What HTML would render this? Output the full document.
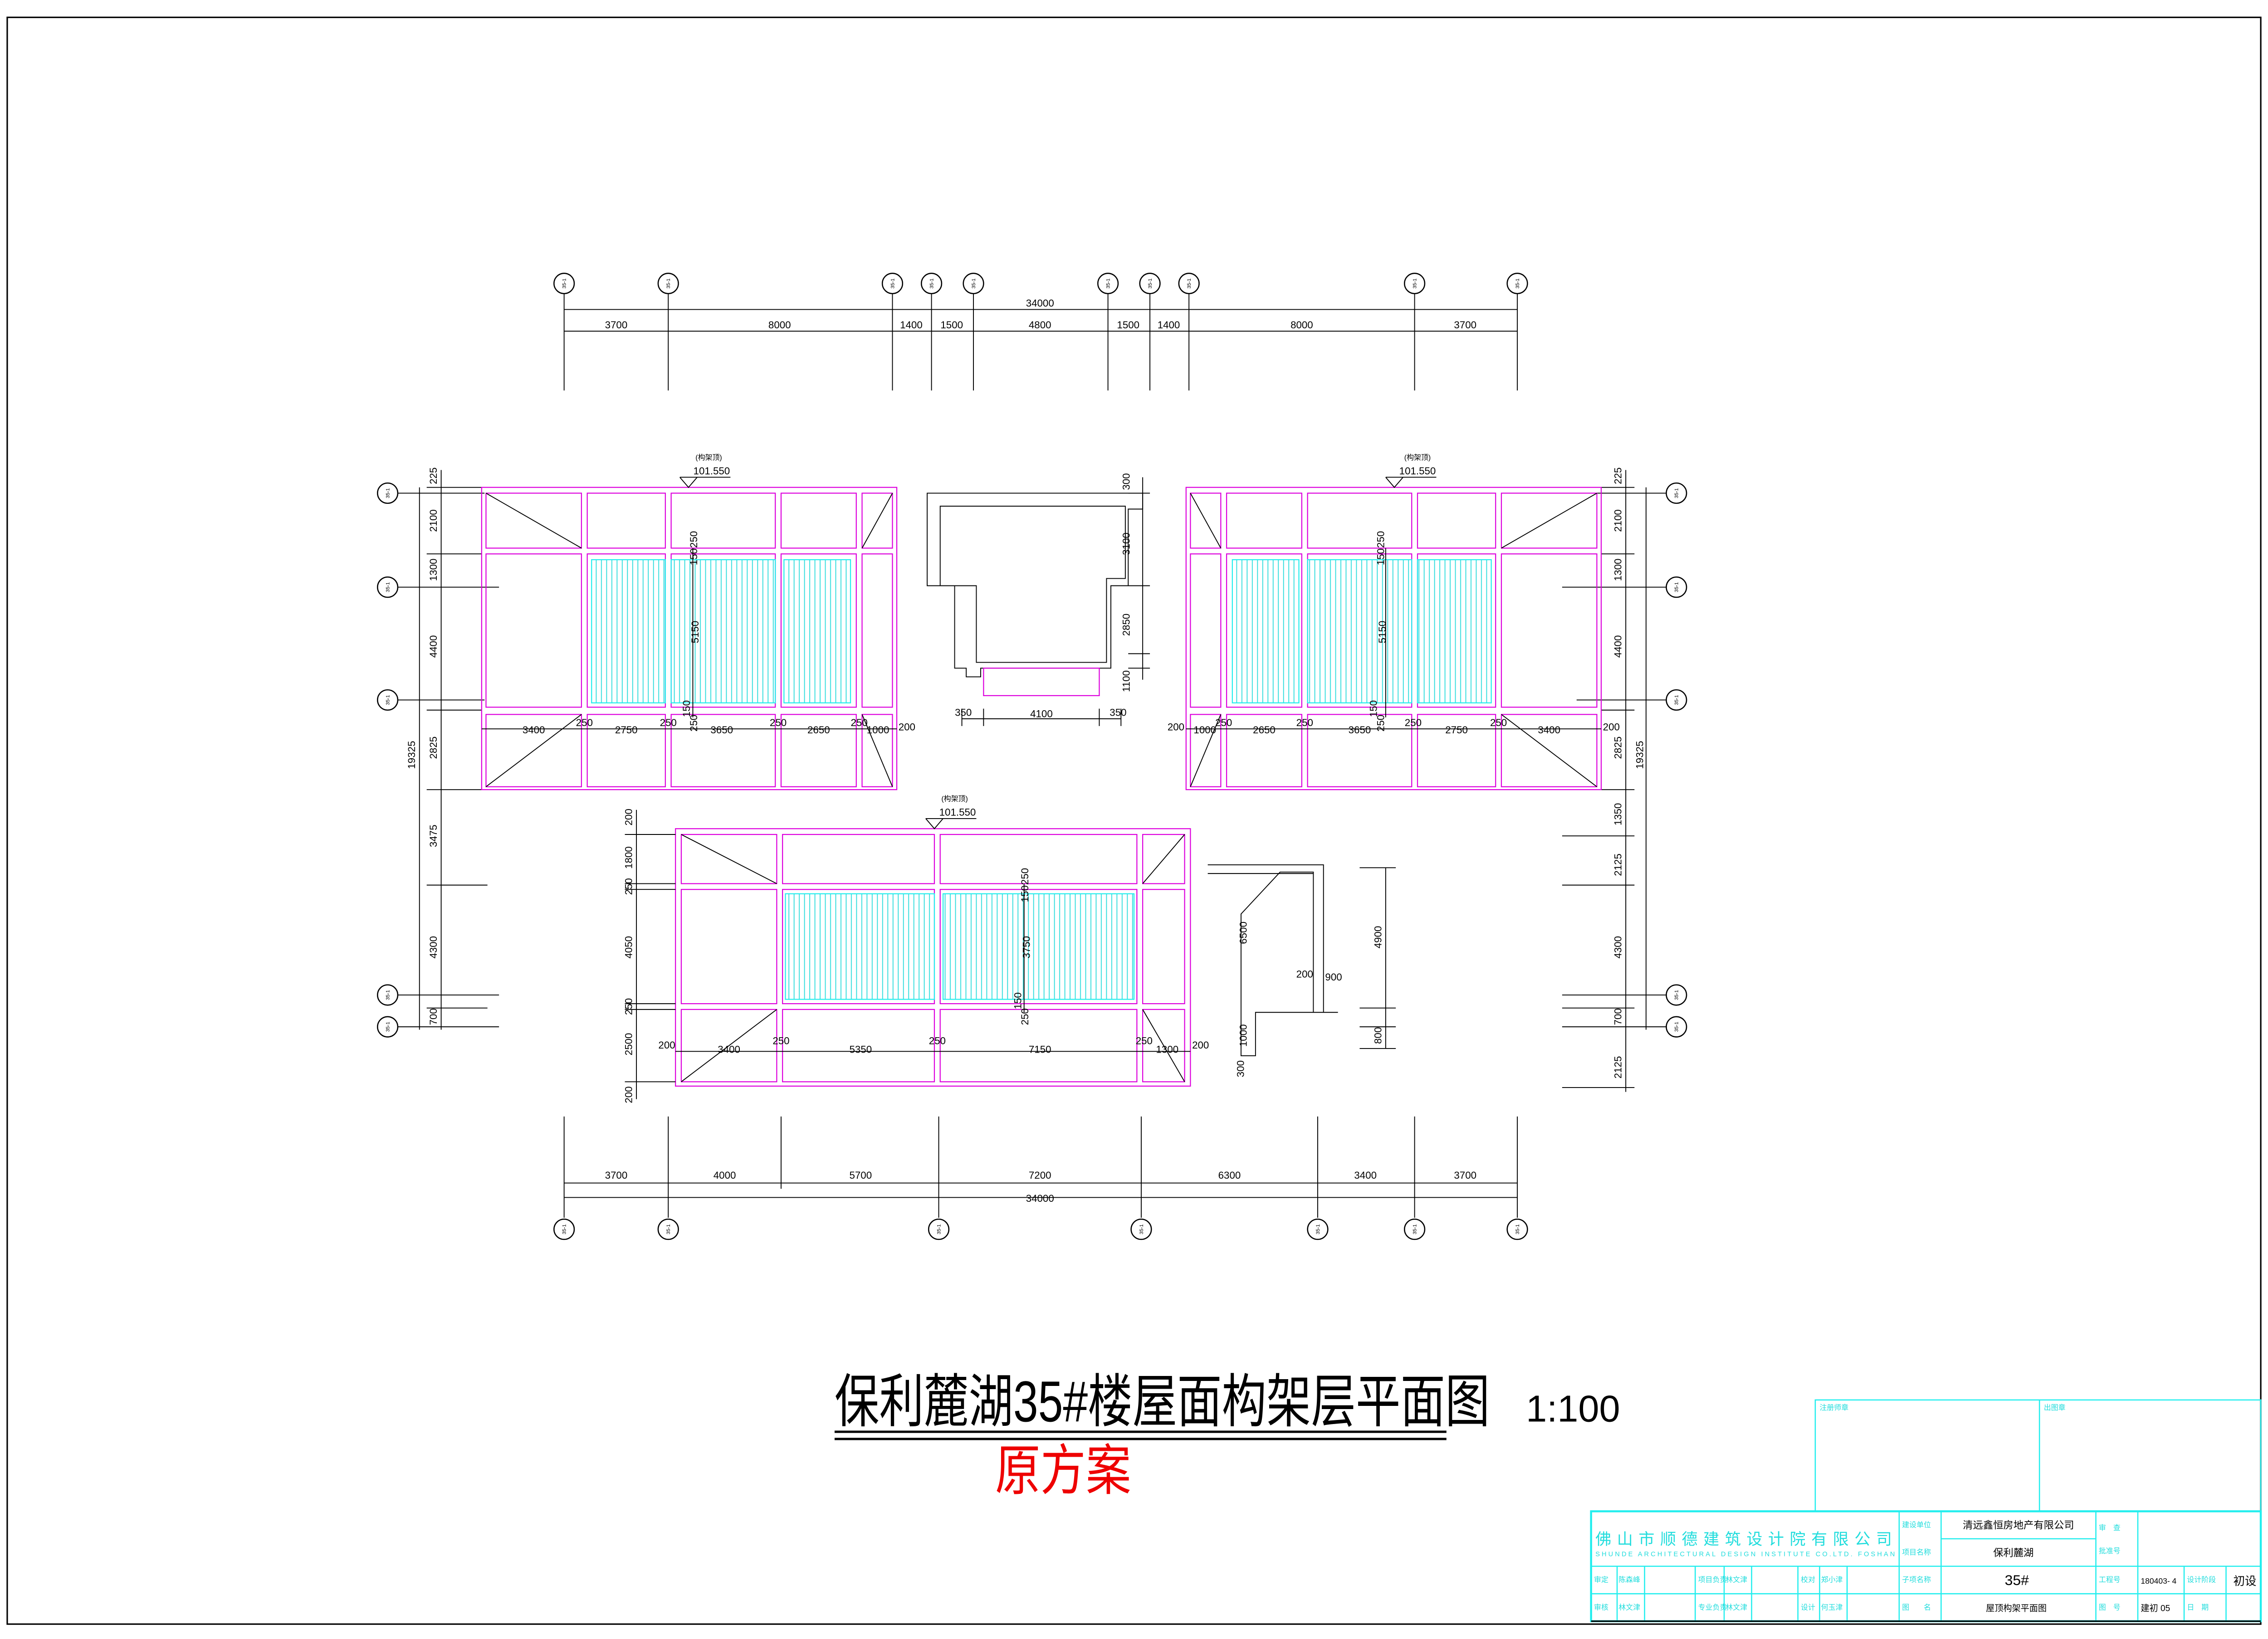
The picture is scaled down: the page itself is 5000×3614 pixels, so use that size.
<!DOCTYPE html>
<html><head><meta charset="utf-8"><style>
html,body{margin:0;padding:0;background:#fff}
svg{display:block}
text{font-family:"Liberation Sans","Noto Sans CJK SC",sans-serif}
.d{font-size:7px;fill:#000}
.m{fill:none;stroke:#d0d;stroke-width:0.7}
.k{fill:none;stroke:#000;stroke-width:0.6}
.c{fill:none;stroke:#2ee;stroke-width:0.8}
.ct{fill:#2dd;font-size:5px}
.bt{font-size:3.5px;fill:#000}
</style></head><body>
<svg width="5000" height="3614" viewBox="0 0 1568 1133.3" preserveAspectRatio="none" xmlns="http://www.w3.org/2000/svg">
<defs>
<pattern id="h" width="3.6" height="10" patternUnits="userSpaceOnUse"><line x1="1.8" y1="0" x2="1.8" y2="10" stroke="#3dd" stroke-width="0.6"/></pattern>
<g id="bub"><circle r="7" fill="#fff" stroke="#000" stroke-width="0.8"/><text class="bt" text-anchor="middle" transform="rotate(-90) translate(0,1.2)">35-1</text></g>
</defs>
<rect x="5" y="12" width="1558" height="1111" fill="none" stroke="#000" stroke-width="1"/>

<!-- top axes -->
<g class="k">
<line x1="390" y1="214" x2="1049" y2="214"/>
<line x1="390" y1="229" x2="1049" y2="229"/>
<path d="M390 203V270M462 203V270M617 203V270M644 203V270M673 203V270M766 203V270M795 203V270M822 203V270M978 203V270M1049 203V270"/>
</g>
<g><use href="#bub" x="390" y="196"/><use href="#bub" x="462" y="196"/><use href="#bub" x="617" y="196"/><use href="#bub" x="644" y="196"/><use href="#bub" x="673" y="196"/><use href="#bub" x="766" y="196"/><use href="#bub" x="795" y="196"/><use href="#bub" x="822" y="196"/><use href="#bub" x="978" y="196"/><use href="#bub" x="1049" y="196"/></g>
<g class="d" text-anchor="middle">
<text x="719" y="212">34000</text>
<text x="426" y="227">3700</text><text x="539" y="227">8000</text><text x="630" y="227">1400</text><text x="658" y="227">1500</text><text x="719" y="227">4800</text><text x="780" y="227">1500</text><text x="808" y="227">1400</text><text x="900" y="227">8000</text><text x="1013" y="227">3700</text>
</g>

<!-- bottom axes -->
<g class="k">
<line x1="390" y1="818" x2="1049" y2="818"/>
<line x1="390" y1="828" x2="1049" y2="828"/>
<path d="M390 772V842M462 772V842M540 772V822M649 772V842M789 772V842M911 772V842M978 772V842M1049 772V842"/>
</g>
<g><use href="#bub" x="390" y="850"/><use href="#bub" x="462" y="850"/><use href="#bub" x="649" y="850"/><use href="#bub" x="789" y="850"/><use href="#bub" x="911" y="850"/><use href="#bub" x="978" y="850"/><use href="#bub" x="1049" y="850"/></g>
<g class="d" text-anchor="middle">
<text x="426" y="815">3700</text><text x="501" y="815">4000</text><text x="595" y="815">5700</text><text x="719" y="815">7200</text><text x="850" y="815">6300</text><text x="944" y="815">3400</text><text x="1013" y="815">3700</text>
<text x="719" y="831">34000</text>
</g>

<!-- left dims -->
<g class="k">
<line x1="305" y1="325" x2="305" y2="712"/><line x1="290" y1="337" x2="290" y2="712"/>
<path d="M262 341H335M262 406H345M262 484H335M262 688H345M262 710H345M295 337H333M295 383H333M295 491H333M295 546H333M295 612H337M295 697H337"/>
</g>
<g><use href="#bub" x="268" y="341"/><use href="#bub" x="268" y="406"/><use href="#bub" x="268" y="484"/><use href="#bub" x="268" y="688"/><use href="#bub" x="268" y="710"/></g>
<g class="d" text-anchor="middle">
<text transform="translate(302,329) rotate(-90)">225</text><text transform="translate(302,360) rotate(-90)">2100</text><text transform="translate(302,394) rotate(-90)">1300</text><text transform="translate(302,447) rotate(-90)">4400</text><text transform="translate(302,517) rotate(-90)">2825</text><text transform="translate(302,578) rotate(-90)">3475</text><text transform="translate(302,655) rotate(-90)">4300</text><text transform="translate(302,703) rotate(-90)">700</text><text transform="translate(287,522) rotate(-90)">19325</text>
</g>

<!-- right dims -->
<g class="k">
<line x1="1124" y1="325" x2="1124" y2="755"/><line x1="1138" y1="337" x2="1138" y2="712"/>
<path d="M1090 341H1166M1080 406H1166M1090 484H1166M1080 688H1166M1080 710H1166M1107 337H1130M1107 383H1130M1107 491H1130M1107 546H1130M1080 578H1130M1080 612H1130M1080 697H1130M1080 752H1130"/>
</g>
<g><use href="#bub" x="1159" y="341"/><use href="#bub" x="1159" y="406"/><use href="#bub" x="1159" y="484"/><use href="#bub" x="1159" y="688"/><use href="#bub" x="1159" y="710"/></g>
<g class="d" text-anchor="middle">
<text transform="translate(1121,329) rotate(-90)">225</text><text transform="translate(1121,360) rotate(-90)">2100</text><text transform="translate(1121,394) rotate(-90)">1300</text><text transform="translate(1121,447) rotate(-90)">4400</text><text transform="translate(1121,517) rotate(-90)">2825</text><text transform="translate(1121,563) rotate(-90)">1350</text><text transform="translate(1121,598) rotate(-90)">2125</text><text transform="translate(1121,655) rotate(-90)">4300</text><text transform="translate(1121,703) rotate(-90)">700</text><text transform="translate(1121,738) rotate(-90)">2125</text><text transform="translate(1136,522) rotate(-90)">19325</text>
</g>

<!-- top-left plan -->
<rect class="m" x="333" y="337" width="287" height="209"/>
<g class="m">
<rect x="336" y="341" width="66" height="38"/><rect x="406" y="341" width="54" height="38"/><rect x="464" y="341" width="72" height="38"/><rect x="540" y="341" width="52" height="38"/><rect x="596" y="341" width="21" height="38"/>
<rect x="336" y="383" width="66" height="106"/><rect x="406" y="383" width="54" height="106"/><rect x="464" y="383" width="72" height="106"/><rect x="540" y="383" width="52" height="106"/><rect x="596" y="383" width="21" height="106"/>
<rect x="336" y="494" width="66" height="50"/><rect x="406" y="494" width="54" height="50"/><rect x="464" y="494" width="72" height="50"/><rect x="540" y="494" width="52" height="50"/><rect x="596" y="494" width="21" height="50"/>
</g>
<g fill="url(#h)" stroke="#2ee" stroke-width="0.7"><rect x="409" y="387" width="51" height="99"/><rect x="464" y="387" width="72" height="99"/><rect x="542" y="387" width="46" height="99"/></g>
<path class="k" d="M336 341L402 379M617 341L596 379M336 544L402 494M596 494L617 544M479 379V496M333 504H620"/>
<g class="d" text-anchor="middle">
<text x="369" y="507">3400</text><text x="404" y="502">250</text><text x="433" y="507">2750</text><text x="462" y="502">250</text><text x="499" y="507">3650</text><text x="538" y="502">250</text><text x="566" y="507">2650</text><text x="594" y="502">250</text><text x="607" y="507">1000</text><text x="627" y="505">200</text>
<text transform="translate(482,373) rotate(-90)">250</text><text transform="translate(482,385) rotate(-90)">150</text><text transform="translate(483,437) rotate(-90)">5150</text><text transform="translate(477,490) rotate(-90)">150</text><text transform="translate(482,500) rotate(-90)">250</text>
<text x="490" y="318" font-size="5">(构架顶)</text><text x="492" y="328">101.550</text>
</g>
<path class="k" d="M470 330H505M470 330L476 337L482 330"/>

<!-- top-right plan -->
<rect class="m" x="820" y="337" width="287" height="209"/>
<g class="m">
<rect x="823" y="341" width="21" height="38"/><rect x="848" y="341" width="52" height="38"/><rect x="904" y="341" width="72" height="38"/><rect x="980" y="341" width="54" height="38"/><rect x="1038" y="341" width="66" height="38"/>
<rect x="823" y="383" width="21" height="106"/><rect x="848" y="383" width="52" height="106"/><rect x="904" y="383" width="72" height="106"/><rect x="980" y="383" width="54" height="106"/><rect x="1038" y="383" width="66" height="106"/>
<rect x="823" y="494" width="21" height="50"/><rect x="848" y="494" width="52" height="50"/><rect x="904" y="494" width="72" height="50"/><rect x="980" y="494" width="54" height="50"/><rect x="1038" y="494" width="66" height="50"/>
</g>
<g fill="url(#h)" stroke="#2ee" stroke-width="0.7"><rect x="852" y="387" width="46" height="99"/><rect x="904" y="387" width="72" height="99"/><rect x="980" y="387" width="51" height="99"/></g>
<path class="k" d="M1104 341L1038 379M823 341L844 379M1104 544L1038 494M844 494L823 544M958 379V496M820 504H1107"/>
<g class="d" text-anchor="middle">
<text x="813" y="505">200</text><text x="833" y="507">1000</text><text x="846" y="502">250</text><text x="874" y="507">2650</text><text x="902" y="502">250</text><text x="940" y="507">3650</text><text x="977" y="502">250</text><text x="1007" y="507">2750</text><text x="1036" y="502">250</text><text x="1071" y="507">3400</text><text x="1114" y="505">200</text>
<text transform="translate(957,373) rotate(-90)">250</text><text transform="translate(957,385) rotate(-90)">150</text><text transform="translate(958,437) rotate(-90)">5150</text><text transform="translate(952,490) rotate(-90)">150</text><text transform="translate(957,500) rotate(-90)">250</text>
<text x="980" y="318" font-size="5">(构架顶)</text><text x="980" y="328">101.550</text>
</g>
<path class="k" d="M958 330H993M958 330L964 337L970 330"/>

<!-- bottom plan -->
<rect class="m" x="467" y="573" width="356" height="178"/>
<g class="m">
<rect x="471" y="577" width="66" height="34"/><rect x="541" y="577" width="105" height="34"/><rect x="650" y="577" width="136" height="34"/><rect x="790" y="577" width="29" height="34"/>
<rect x="471" y="615" width="66" height="79"/><rect x="541" y="615" width="105" height="79"/><rect x="650" y="615" width="136" height="79"/><rect x="790" y="615" width="29" height="79"/>
<rect x="471" y="698" width="66" height="50"/><rect x="541" y="698" width="105" height="50"/><rect x="650" y="698" width="136" height="50"/><rect x="790" y="698" width="29" height="50"/>
</g>
<g fill="url(#h)" stroke="#2ee" stroke-width="0.7"><rect x="543" y="618" width="103" height="73"/><rect x="652" y="618" width="132" height="73"/></g>
<path class="k" d="M471 577L537 611M819 577L790 611M471 748L537 698M790 698L819 748M708 611V700M467 727H823M440 560V760M432 577H467M432 611H467M432 615H467M432 694H467M432 698H467M432 748H467"/>
<g class="d" text-anchor="middle">
<text x="461" y="725">200</text><text x="504" y="728">3400</text><text x="540" y="722">250</text><text x="595" y="728">5350</text><text x="648" y="722">250</text><text x="719" y="728">7150</text><text x="791" y="722">250</text><text x="807" y="728">1300</text><text x="830" y="725">200</text>
<text transform="translate(711,606) rotate(-90)">250</text><text transform="translate(711,618) rotate(-90)">150</text><text transform="translate(712,655) rotate(-90)">3750</text><text transform="translate(706,692) rotate(-90)">150</text><text transform="translate(711,703) rotate(-90)">250</text>
<text transform="translate(437,565) rotate(-90)">200</text><text transform="translate(437,593) rotate(-90)">1800</text><text transform="translate(437,613) rotate(-90)">250</text><text transform="translate(437,655) rotate(-90)">4050</text><text transform="translate(437,696) rotate(-90)">250</text><text transform="translate(437,722) rotate(-90)">2500</text><text transform="translate(437,757) rotate(-90)">200</text>
<text x="660" y="554" font-size="5">(构架顶)</text><text x="662" y="564">101.550</text>
</g>
<path class="k" d="M640 566H675M640 566L646 573L652 566"/>

<!-- middle stair block -->
<path class="k" d="M641 341H790V352H780V405H768V462H678V468H668V462H660V405H650V405H641Z"/>
<path class="k" d="M650 350H778V400H765V458H675V405H650Z"/>
<rect class="m" x="680" y="462" width="80" height="19"/>
<path class="k" d="M665 497H775M665 490V502M680 490V502M760 490V502M775 490V502M790 330V470M780 341H795M780 405H795M780 452H795M780 462H795"/>
<g class="d" text-anchor="middle">
<text x="666" y="495">350</text><text x="720" y="496">4100</text><text x="773" y="495">350</text>
<text transform="translate(781,333) rotate(-90)">300</text><text transform="translate(781,376) rotate(-90)">3100</text><text transform="translate(781,432) rotate(-90)">2850</text><text transform="translate(781,471) rotate(-90)">1100</text>
</g>

<!-- right section -->
<path class="k" d="M835 598H915V700H868V730H858V632L885 603H908V700M835 604H908M958 600V725M940 600H965M940 697H965M940 710H965M940 725H965M868 700H925"/>
<g class="d" text-anchor="middle">
<text transform="translate(862,645) rotate(-90)">6500</text><text transform="translate(955,648) rotate(-90)">4900</text><text x="902" y="676">200</text><text x="922" y="678">900</text><text transform="translate(862,716) rotate(-90)">1000</text><text transform="translate(955,716) rotate(-90)">800</text><text transform="translate(860,739) rotate(-90)">300</text>
</g>

<!-- title -->
<text x="577" y="983" font-size="40" font-family="'Liberation Serif','Noto Serif CJK SC',serif" textLength="453" lengthAdjust="spacingAndGlyphs">保利麓湖35#楼屋面构架层平面图</text>
<path d="M577 990H1000M577 995H1000" stroke="#000" stroke-width="1.6"/>
<text x="1055" y="983" font-size="26" font-family="'Liberation Serif',serif">1:100</text>
<text x="688" y="1030" font-size="38" fill="#e00" font-family="'Liberation Serif','Noto Serif CJK SC',serif" textLength="94" lengthAdjust="spacingAndGlyphs">原方案</text>

<!-- title block -->
<g stroke="#2ee" fill="none" stroke-width="0.8">
<rect x="1255" y="968" width="308" height="77"/><line x1="1410" y1="968" x2="1410" y2="1045"/>
<rect x="1100" y="1045" width="463" height="76" stroke-width="1.4"/>
<path d="M1100 1083H1563M1100 1102H1563M1313 1045V1121M1342 1045V1121M1449 1045V1121M1478 1045V1121M1342 1064H1449M1510 1083V1121M1539 1083V1121M1118 1083V1121M1137 1083V1121M1172 1083V1121M1192 1083V1121M1211 1083V1121M1243 1083V1121M1258 1083V1121M1277 1083V1121"/>
</g>
<line x1="1100" y1="1121" x2="1563" y2="1121" stroke="#000" stroke-width="1"/>
<g class="ct">
<text x="1258" y="975">注册师章</text><text x="1413" y="975">出图章</text>
<text x="1103" y="1068" font-size="11" textLength="205" lengthAdjust="spacing">佛山市顺德建筑设计院有限公司</text>
<text x="1103" y="1076" font-size="4.6" textLength="207" lengthAdjust="spacing">SHUNDE ARCHITECTURAL DESIGN INSTITUTE CO.LTD. FOSHAN</text>
<text x="1315" y="1056">建设单位</text><text x="1315" y="1075">项目名称</text><text x="1315" y="1094">子项名称</text><text x="1315" y="1113">图　　名</text>
<text x="1451" y="1058">审　查</text><text x="1451" y="1074">批准号</text><text x="1451" y="1094">工程号</text><text x="1451" y="1113">图　号</text>
<text x="1512" y="1094">设计阶段</text><text x="1512" y="1113">日　期</text>
<text x="1102" y="1094">审定</text><text x="1102" y="1113">审核</text><text x="1119" y="1094">陈森峰</text><text x="1119" y="1113">林文津</text>
<text x="1174" y="1094">项目负责</text><text x="1174" y="1113">专业负责</text><text x="1193" y="1094">林文津</text><text x="1193" y="1113">林文津</text>
<text x="1245" y="1094">校对</text><text x="1245" y="1113">设计</text><text x="1259" y="1094">郑小津</text><text x="1259" y="1113">何玉津</text>
</g>
<g font-size="7" fill="#000">
<text x="1357" y="1057">清远鑫恒房地产有限公司</text>
<text x="1378" y="1076">保利麓湖</text>
<text x="1386" y="1096" font-size="10">35#</text>
<text x="1373" y="1114" font-size="6">屋顶构架平面图</text>
<text x="1480" y="1095" font-size="5.5">180403- 4</text>
<text x="1480" y="1114" font-size="6">建初 05</text>
<text x="1544" y="1096" font-size="8">初设</text>
</g>
</svg>
</body></html>
